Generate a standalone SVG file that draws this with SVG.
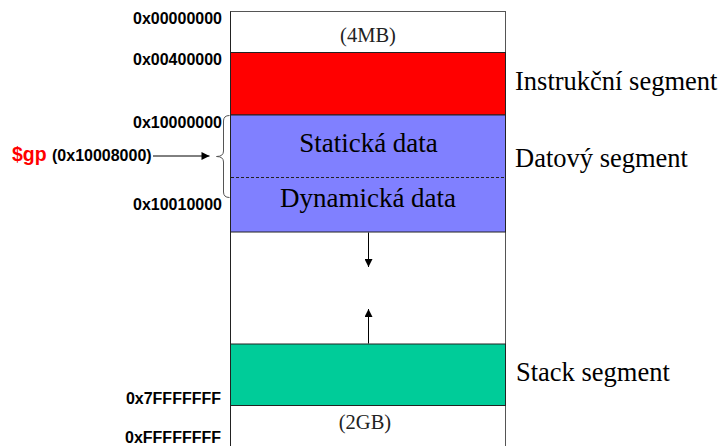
<svg xmlns="http://www.w3.org/2000/svg" width="721" height="446" viewBox="0 0 721 446">
<style>
.addr{font-family:"Liberation Sans",Arial,sans-serif;font-weight:bold;font-size:16px;fill:#000;text-anchor:end}
.seg{font-family:"Liberation Serif","Times New Roman",serif;font-size:26.5px;fill:#000}
.in{font-family:"Liberation Serif","Times New Roman",serif;font-size:27px;fill:#000;text-anchor:middle}
.sz{font-family:"Liberation Serif","Times New Roman",serif;font-size:20.5px;fill:#222;text-anchor:middle}
.blk{stroke:#222;stroke-width:1}
</style>
<defs>
<marker id="ah" viewBox="0 0 10 10" refX="10" refY="5" markerWidth="10" markerHeight="8" markerUnits="userSpaceOnUse" orient="auto">
<path d="M0,0 L10,5 L0,10 z" fill="#000"/>
</marker>
</defs>
<rect width="721" height="446" fill="#fff"/>
<g id="memory">
<rect x="230.5" y="11.5" width="275" height="445" fill="#fff" stroke="#555" stroke-width="1"/>
<line x1="230.5" y1="11.5" x2="230.5" y2="446" stroke="#222"/>
</g>
<g id="instrukcni">
<rect x="230.5" y="52.5" width="275" height="62.5" fill="#ff0000" class="blk"/>
</g>
<g id="datovy">
<rect x="230.5" y="115" width="275" height="117" fill="#8080ff" class="blk"/>
<line x1="231" y1="177.5" x2="505" y2="177.5" stroke="#222" stroke-dasharray="3,2"/>
<text class="in" x="368.5" y="152">Statická data</text>
<text class="in" x="368" y="207">Dynamická data</text>
</g>
<g id="stack">
<rect x="230.5" y="344" width="275" height="61.5" fill="#00cc99" class="blk"/>
</g>
<g id="connectors">
<line x1="368.5" y1="232.5" x2="368.5" y2="267" stroke="#000" marker-end="url(#ah)"/>
<line x1="368.5" y1="343.5" x2="368.5" y2="309" stroke="#000" marker-end="url(#ah)"/>
<line x1="153" y1="156" x2="209.5" y2="156" stroke="#000" marker-end="url(#ah)"/>
<path d="M229.5,115.5 Q223.5,115.5 223.5,121 L223.5,151 Q223.5,156.5 216.5,156.5 Q223.5,156.5 223.5,162 L223.5,192 Q223.5,197.5 229.5,197.5" fill="none" stroke="#555" stroke-width="1"/>
</g>
<g id="labels">
<text class="sz" x="368" y="42">(4MB)</text>
<text class="sz" x="365" y="429">(2GB)</text>
<text class="seg" x="515" y="90">Instrukční segment</text>
<text class="seg" x="515" y="166.5">Datový segment</text>
<text class="seg" x="516" y="380.5">Stack segment</text>
<text class="addr" x="222" y="24">0x00000000</text>
<text class="addr" x="222" y="65">0x00400000</text>
<text class="addr" x="222" y="127.5">0x10000000</text>
<text class="addr" x="222" y="210">0x10010000</text>
<text class="addr" x="221" y="404">0x7FFFFFFF</text>
<text class="addr" x="221" y="443">0xFFFFFFFF</text>
<text x="12" y="161" font-family="Liberation Sans,Arial,sans-serif" font-weight="bold" font-size="19.5" fill="#ff0000">$gp</text>
<text x="52" y="161" font-family="Liberation Sans,Arial,sans-serif" font-weight="bold" font-size="16" fill="#000">(0x10008000)</text>
</g>
</svg>
